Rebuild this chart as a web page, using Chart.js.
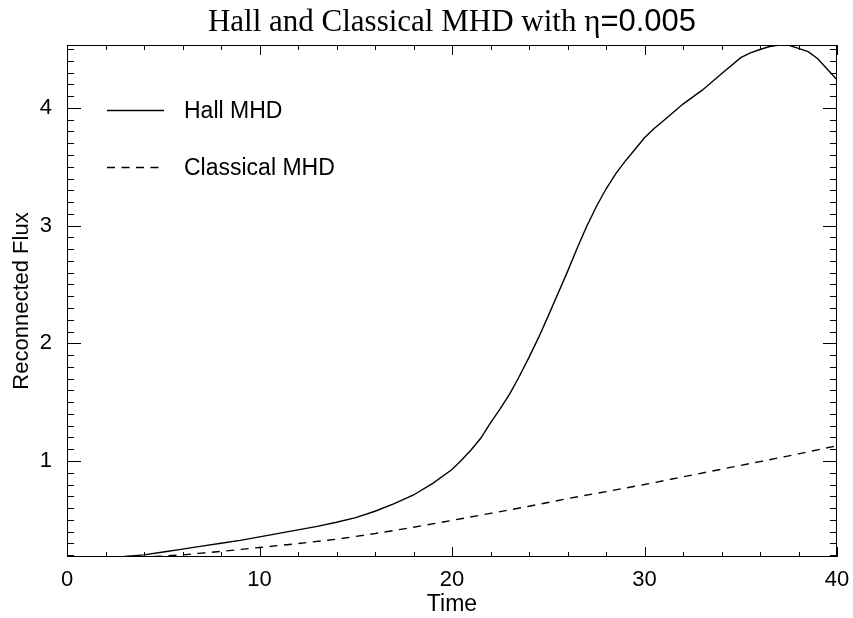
<!DOCTYPE html>
<html>
<head>
<meta charset="utf-8">
<script src="https://cdn.jsdelivr.net/npm/chart.js@4.4.1/dist/chart.umd.min.js"></script>
<style>
html,body{margin:0;padding:0;background:#fff;}
#wrap{width:853px;height:618px;}
</style>
</head>
<body>
<div id="wrap"><canvas id="c" width="853" height="618"></canvas></div>
<script>
// ---- data ----
const hallTime = [0,1,2,3,4,5,6,7,8,9,10,11,12,13,14,15,16,17,18,19,20,20.5,21,21.5,22,22.5,23,23.5,24,24.5,25,25.5,26,26.5,27,27.5,28,28.5,29,29.5,30,30.5,31,31.5,32,33,34,35,35.5,36,36.5,37,37.5,38,38.5,39,39.5,40];
const hallFlux = [0.184,0.184,0.185,0.189,0.202,0.226,0.251,0.276,0.301,0.325,0.355,0.385,0.414,0.444,0.479,0.518,0.573,0.637,0.711,0.810,0.928,1.008,1.096,1.195,1.324,1.442,1.571,1.72,1.88,2.05,2.233,2.421,2.609,2.807,2.995,3.163,3.311,3.440,3.548,3.647,3.746,3.825,3.894,3.963,4.033,4.151,4.290,4.428,4.468,4.497,4.522,4.535,4.532,4.507,4.478,4.418,4.329,4.24];
const classTime = [0,2,4,5,6,7,8,10,12,14,16,18,20,22,24,26,28,30,32,34,36,38,40];
const classFlux = [0.184,0.184,0.185,0.192,0.202,0.217,0.231,0.265,0.298,0.335,0.383,0.437,0.495,0.555,0.615,0.68,0.74,0.80,0.865,0.93,0.995,1.06,1.13];
const xTickValues = [0,10,20,30,40];
const yTickValues = [1,2,3,4];
const seriesNames = ['Hall MHD','Classical MHD'];
const titleParts = ['Hall and Classical MHD with ', 'η', '=0.005'];
const xTitle = 'Time';
const yTitle = 'Reconnected Flux';

const SANS = '"Liberation Sans", Arial, Helvetica, sans-serif';
const SERIF = '"Liberation Serif", "Times New Roman", serif';

const decor = {
  id: 'decor',
  afterDraw(chart) {
    const ctx = chart.ctx;
    const a = chart.chartArea;
    const xs = chart.scales.x, ys = chart.scales.y;
    ctx.save();
    ctx.strokeStyle = '#000';
    ctx.lineWidth = 1;
    // frame
    ctx.strokeRect(a.left + 0.5, a.top + 0.5, a.right - a.left - 1, a.bottom - a.top - 1);
    // x ticks (inward, both sides)
    ctx.beginPath();
    for (let v = xs.min; v <= xs.max + 1e-9; v += 2) {
      const px = Math.round(xs.getPixelForValue(v)) + 0.5;
      const major = Math.abs(v % 10) < 1e-9;
      const len = major ? 10 : 5;
      ctx.moveTo(px, a.bottom); ctx.lineTo(px, a.bottom - len);
      ctx.moveTo(px, a.top); ctx.lineTo(px, a.top + len);
    }
    // y ticks
    for (let k = 2; k <= 45; k++) {
      const v = k / 10;
      if (v < ys.min || v > ys.max) continue;
      const py = Math.round(ys.getPixelForValue(v)) + 0.5;
      const major = k % 10 === 0;
      const len = major ? 14 : 7;
      ctx.moveTo(a.left, py); ctx.lineTo(a.left + len, py);
      ctx.moveTo(a.right, py); ctx.lineTo(a.right - len, py);
    }
    ctx.stroke();

    // title (mixed fonts)
    const fSerif = '31px ' + SERIF;
    const fSans = '31px ' + SANS;
    const fonts = [fSerif, fSerif, fSans];
    let total = 0; const widths = [];
    titleParts.forEach((t, i) => { ctx.font = fonts[i]; const w = ctx.measureText(t).width; widths.push(w); total += w; });
    let tx = (a.left + a.right) / 2 - total / 2;
    ctx.fillStyle = '#000';
    ctx.textBaseline = 'alphabetic';
    ctx.textAlign = 'left';
    titleParts.forEach((t, i) => { ctx.font = fonts[i]; ctx.fillText(t, tx, 31); tx += widths[i]; });

    // legend
    const ds = chart.data.datasets;
    const rows = [110, 167];
    ctx.font = '23px ' + SANS;
    ctx.textBaseline = 'middle';
    ds.forEach((d, i) => {
      ctx.save();
      ctx.lineWidth = d.borderWidth;
      ctx.setLineDash(d.borderDash || []);
      ctx.beginPath();
      ctx.moveTo(107, rows[i] + 0.5); ctx.lineTo(164, rows[i] + 0.5);
      ctx.stroke();
      ctx.restore();
      ctx.fillText(d.label, 184, rows[i] + 2);
    });
    ctx.restore();
  }
};

new Chart(document.getElementById('c'), {
  type: 'line',
  data: {
    datasets: [
      { label: seriesNames[0], data: hallTime.map((t, i) => ({x: t, y: hallFlux[i]})), borderColor: '#000', borderWidth: 1.4, pointRadius: 0, tension: 0, fill: false },
      { label: seriesNames[1], data: classTime.map((t, i) => ({x: t, y: classFlux[i]})), borderColor: '#000', borderWidth: 1.4, borderDash: [8, 6.5], pointRadius: 0, tension: 0, fill: false }
    ]
  },
  options: {
    responsive: false,
    animation: false,
    layout: { padding: { left: 0, right: 16, top: 45, bottom: 0 } },
    plugins: { legend: { display: false }, title: { display: false }, tooltip: { enabled: false } },
    scales: {
      x: {
        type: 'linear', min: 0, max: 40,
        afterBuildTicks: s => { s.ticks = xTickValues.map(v => ({value: v})); },
        afterFit: s => { s.height = 61; },
        grid: { display: false }, border: { display: false },
        ticks: { color: '#000', font: { family: SANS, size: 22 }, padding: 2, maxRotation: 0, autoSkip: false },
        title: { display: true, text: xTitle, color: '#000', font: { family: SANS, size: 23 }, padding: { top: 0, bottom: 0 } }
      },
      y: {
        type: 'linear', min: 0.184, max: 4.535,
        afterBuildTicks: s => { s.ticks = yTickValues.map(v => ({value: v})); },
        afterFit: s => { s.width = 67; },
        grid: { display: false }, border: { display: false },
        ticks: { color: '#000', font: { family: SANS, size: 22 }, padding: 7, autoSkip: false },
        title: { display: true, text: yTitle, color: '#000', font: { family: SANS, size: 22 }, padding: { top: 9, bottom: 0 } }
      }
    }
  },
  plugins: [decor]
});
</script>
</body>
</html>
